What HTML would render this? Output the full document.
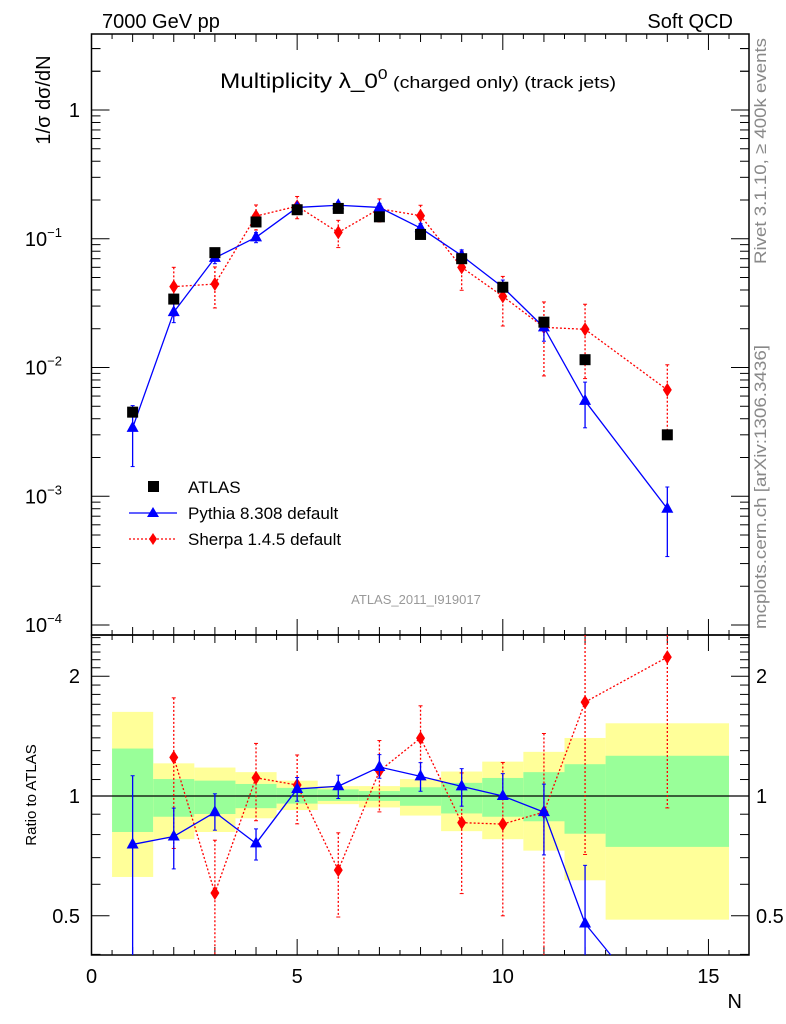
<!DOCTYPE html>
<html><head><meta charset="utf-8">
<style>
html,body{margin:0;padding:0;background:#fff;overflow:hidden;width:786px;height:1024px;}
svg{display:block;font-family:"Liberation Sans",sans-serif;}
</style></head>
<body>
<svg id="chart" width="786" height="1024" viewBox="0 0 786 1024" xmlns="http://www.w3.org/2000/svg">
<g id="bands"></g>
<g id="grid"></g>
<g id="marks"></g>
<text x="102" y="28" font-size="20">7000 GeV pp</text>
<text x="733" y="28" font-size="20" text-anchor="end">Soft QCD</text>
<text x="418" y="88" font-size="21" text-anchor="middle" textLength="396" lengthAdjust="spacingAndGlyphs">Multiplicity λ_0<tspan dy="-9" font-size="15">0</tspan><tspan dy="9" font-size="17"> (charged only) (track jets)</tspan></text>
<text transform="translate(50,100) rotate(-90)" font-size="20" text-anchor="middle">1/σ dσ/dN</text>
<text transform="translate(36,795) rotate(-90)" font-size="15" text-anchor="middle">Ratio to ATLAS</text>
<text x="742" y="1008" font-size="20" text-anchor="end">N</text>
<text transform="translate(766,151) rotate(-90)" font-size="17" fill="#888" text-anchor="middle" textLength="226" lengthAdjust="spacingAndGlyphs">Rivet 3.1.10, ≥ 400k events</text>
<text transform="translate(766,487) rotate(-90)" font-size="17" fill="#888" text-anchor="middle" textLength="284" lengthAdjust="spacingAndGlyphs">mcplots.cern.ch [arXiv:1306.3436]</text>
<text x="416" y="604" font-size="13" fill="#999" text-anchor="middle">ATLAS_2011_I919017</text>
<g>
<rect x="148" y="481" width="11" height="11" fill="#000"/>
<text x="188" y="493" font-size="17">ATLAS</text>
<line x1="129" y1="513" x2="177" y2="513" stroke="#00f" stroke-width="1.3"/>
<polygon points="153,507 159,517 147,517" fill="#00f"/>
<text x="188" y="519" font-size="17">Pythia 8.308 default</text>
<line x1="129" y1="539" x2="177" y2="539" stroke="#f00" stroke-width="1.3" stroke-dasharray="2,2"/>
<polygon points="153,533 157,539 153,545 149,539" fill="#f00"/>
<text x="188" y="545" font-size="17">Sherpa 1.4.5 default</text>
</g>
</svg>
<script>
const nValues = [1,2,3,4,5,6,7,8,9,10,11,12,14];
const atlasValues = [0.0045,0.034,0.078,0.135,0.168,0.172,0.148,0.108,0.070,0.042,0.0225,0.0115,0.003];
const pythiaValues = [0.0034,0.0269,0.071,0.1026,0.175,0.182,0.175,0.121,0.074,0.042,0.0205,0.0055,0.0008];
const pythiaLo = [0.0017,0.0223,0.064,0.0932,0.163,0.1695,0.164,0.111,0.066,0.0416,0.016,0.0034,0.00034];
const pythiaHi = [0.00506,0.0317,0.079,0.1116,0.187,0.194,0.188,0.131,0.082,0.0478,0.0241,0.0077,0.00118];
const sherpaValues = [null,0.0425,0.0445,0.150,0.179,0.112,0.171,0.151,0.060,0.0357,0.0205,0.0198,0.0067];
const sherpaLo = [null,0.0251,0.029,0.117,0.143,0.0854,0.135,0.121,0.0398,0.021,0.0086,0.0082,0.0028];
const sherpaHi = [null,0.060,0.0604,0.183,0.213,0.139,0.204,0.182,0.080,0.051,0.0323,0.031,0.0105];
const bandEdges = [0.5,1.5,2.5,3.5,4.5,5.5,6.5,7.5,8.5,9.5,10.5,11.5,12.5,15.5];
const yellowHi = [1.627,1.208,1.179,1.148,1.093,1.059,1.059,1.103,1.152,1.220,1.291,1.399,1.523];
const yellowLo = [0.626,0.779,0.812,0.879,0.922,0.954,0.936,0.893,0.816,0.779,0.729,0.614,0.489];
const greenHi = [1.316,1.103,1.093,1.072,1.048,1.039,1.029,1.052,1.079,1.110,1.148,1.202,1.262];
const greenLo = [0.812,0.887,0.901,0.932,0.957,0.972,0.972,0.945,0.904,0.887,0.864,0.804,0.745];
const xTickLabels = ["0","5","10","15"];
const mainTickLabels = ["1","10","10","10","10"];
const ratioTickLabels = ["0.5","1","2"];

const NS="http://www.w3.org/2000/svg";
const X0=91.5, X1=749, YT=34, YM=635, YB=955;
const xS = n => X0 + n*41.13;
const yMain = v => 110 - Math.log10(v)*128.75;
const yRat = r => 796 - Math.log10(r)*398;
const clampY=(y,a,b)=>Math.max(a,Math.min(b,y));
function mk(parent, tag, attrs){const e=document.createElementNS(NS,tag);for(const k in attrs)e.setAttribute(k,attrs[k]);parent.appendChild(e);return e;}
const gBands=document.getElementById('bands'), gGrid=document.getElementById('grid'), gMarks=document.getElementById('marks');

for(let i=0;i<yellowHi.length;i++){
  const xa=xS(bandEdges[i]), xb=xS(bandEdges[i+1]);
  const yh=clampY(yRat(yellowHi[i]),YM,YB), yl=clampY(yRat(yellowLo[i]),YM,YB);
  const y1=mk(gBands,'rect',{x:xa,y:yh,width:xb-xa,height:yl-yh,fill:'#ffff99'});
  
  
  const gh=clampY(yRat(greenHi[i]),YM,YB), gl=clampY(yRat(greenLo[i]),YM,YB);
  const g1=mk(gBands,'rect',{x:xa,y:gh,width:xb-xa,height:gl-gh,fill:'#99ff99'});
  
  
}
const f1=mk(gGrid,'rect',{x:X0,y:YT,width:X1-X0,height:YM-YT,fill:'none',stroke:'#000','stroke-width':1.5});


const f2=mk(gGrid,'rect',{x:X0,y:YM,width:X1-X0,height:YB-YM,fill:'none',stroke:'#000','stroke-width':1.5});


const one=mk(gGrid,'line',{x1:X0,x2:X1,y1:yRat(1),y2:yRat(1),stroke:'#000','stroke-width':1.2});


function xt(y,dir){
  for(let h=0;h<=32;h++){const n=h/2;const x=xS(n);if(x>X1-1)break;
    let L=(n%5===0)?16:(Number.isInteger(n)?8:5);
    mk(gGrid,'line',{x1:x,x2:x,y1:y,y2:y+dir*L,stroke:'#000','stroke-width':1});}
}
xt(YT,1);xt(YM,-1);xt(YM,1);xt(YB,-1);
xTickLabels.forEach((t,i)=>{const e=mk(gGrid,'text',{x:xS(i*5),y:983,'font-size':20,'text-anchor':'middle'});e.textContent=t;
  
  });
for(let d=-4;d<=0;d++){
  for(let m=1;m<10;m++){const v=m*Math.pow(10,d);const y=yMain(v);if(y<YT)continue;
    const L=m===1?18:9;
    mk(gGrid,'line',{x1:X0,x2:X0+L,y1:y,y2:y,stroke:'#000'});
    mk(gGrid,'line',{x1:X1,x2:X1-L,y1:y,y2:y,stroke:'#000'});}
}
for(let m=2;m<4;m++){const y=yMain(m);mk(gGrid,'line',{x1:X0,x2:X0+9,y1:y,y2:y,stroke:'#000'});mk(gGrid,'line',{x1:X1,x2:X1-9,y1:y,y2:y,stroke:'#000'});}
mainTickLabels.forEach((t,i)=>{const d=-i;const y=yMain(Math.pow(10,d));
  const e=mk(gGrid,'text',{x:i===0?80:64,y:y+7,'font-size':20,'text-anchor':'end'});e.textContent=t;
  if(i>0){const s=mk(e,'tspan',{dy:-9,'font-size':13});s.textContent='−'+i;e.setAttribute('x',62);}
  
  });
const rt=[0.4,0.5,0.6,0.7,0.8,0.9,1,1.1,1.2,1.3,1.4,1.5,1.6,1.7,1.8,1.9,2,2.1,2.2,2.3,2.4,2.5];
rt.forEach(r=>{const y=yRat(r);if(y<YM||y>YB)return;const L=(r===0.5||r===1||r===2)?18:9;
  mk(gGrid,'line',{x1:X0,x2:X0+L,y1:y,y2:y,stroke:'#000'});mk(gGrid,'line',{x1:X1,x2:X1-L,y1:y,y2:y,stroke:'#000'});});
ratioTickLabels.forEach(t=>{const y=yRat(parseFloat(t));
  const a=mk(gGrid,'text',{x:80,y:y+7,'font-size':20,'text-anchor':'end'});a.textContent=t;
  
  
  const b=mk(gGrid,'text',{x:756,y:y+7,'font-size':20});b.textContent=t;
  
  });

// clip a segment to y range [a,b]
function clipSeg(x1,y1,x2,y2,a,b){
  let t0=0,t1=1;const dy=y2-y1;
  if(dy===0){return (y1<a||y1>b)?null:[x1,y1,x2,y2];}
  const ta=(a-y1)/dy, tb=(b-y1)/dy;
  t0=Math.max(t0,Math.min(ta,tb));t1=Math.min(t1,Math.max(ta,tb));
  if(t0>t1)return null;
  return [x1+(x2-x1)*t0,y1+dy*t0,x1+(x2-x1)*t1,y1+dy*t1];
}
function series(vals,lo,hi,color,dash,shape,name){
  [['main',yMain,1,YT,YM],['ratio',yRat,0,YM,YB]].forEach(([panel,yf,isMain,A,B])=>{
    const g=mk(gMarks,'g',{});
    
    
    const tr=(v,i)=>isMain?v:v/atlasValues[i];
    let pts=[];
    vals.forEach((v,i)=>{if(v==null)return;pts.push([xS(nValues[i]),yf(tr(v,i))]);});
    let d='';
    for(let k=0;k<pts.length-1;k++){const c=clipSeg(pts[k][0],pts[k][1],pts[k+1][0],pts[k+1][1],A,B);
      if(c)d+=`M${c[0]},${c[1]}L${c[2]},${c[3]}`;}
    const pl=mk(g,'path',{d:d,fill:'none',stroke:color,'stroke-width':1.3});
    if(dash)pl.setAttribute('stroke-dasharray','2,2');
    
    
    vals.forEach((v,i)=>{if(v==null)return;const x=xS(nValues[i]);
      const yaR=yf(tr(hi[i],i)), ybR=yf(tr(lo[i],i)), y=yf(tr(v,i));
      const ya=clampY(yaR,A,B), yb=clampY(ybR,A,B);
      if(ya<yb){
        const eb=mk(g,'line',{x1:x,x2:x,y1:ya,y2:yb,stroke:color,'stroke-width':1.3});
        if(dash)eb.setAttribute('stroke-dasharray','2,2');
        
        
      }
      if(yaR>=A&&yaR<=B)mk(g,'line',{x1:x-2,x2:x+2,y1:yaR,y2:yaR,stroke:color});
      if(ybR>=A&&ybR<=B)mk(g,'line',{x1:x-2,x2:x+2,y1:ybR,y2:ybR,stroke:color});
      if(y<A||y>B)return;
      let m;
      if(shape==='tri') m=mk(g,'polygon',{points:`${x},${y-7} ${x+6},${y+4} ${x-6},${y+4}`,fill:color});
      else m=mk(g,'polygon',{points:`${x},${y-7} ${x+4.5},${y} ${x},${y+7} ${x-4.5},${y}`,fill:color});
      
      });
  });
}
series(sherpaValues,sherpaLo,sherpaHi,'#f00',true,'dia','sherpa');
series(pythiaValues,pythiaLo,pythiaHi,'#00f',false,'tri','pythia');
atlasValues.forEach((v,i)=>{const x=xS(nValues[i]),y=yMain(v);
  const r=mk(gMarks,'rect',{x:x-5.5,y:y-5.5,width:11,height:11,fill:'#000'});
  
  });
</script>
</body></html>
